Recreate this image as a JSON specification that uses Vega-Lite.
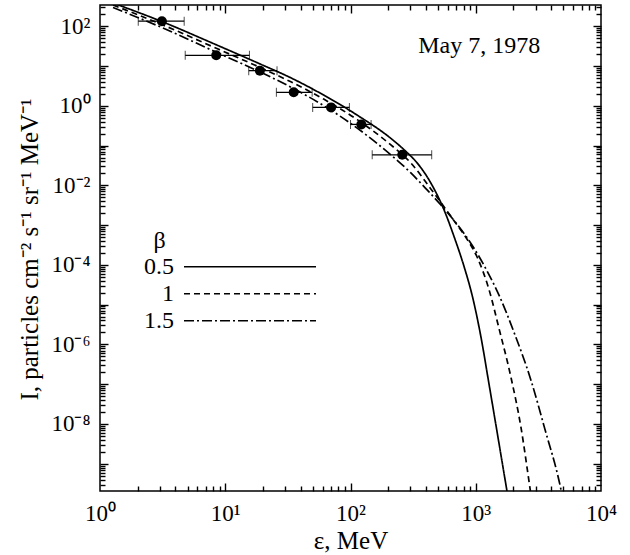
{
  "$schema": "https://vega.github.io/schema/vega-lite/v6.json",
  "width": 501,
  "height": 486,
  "autosize": {"type": "none"},
  "padding": {"left": 100, "top": 5, "right": 29, "bottom": 64},
  "background": "white",
  "config": {
    "view": {"stroke": "black", "strokeWidth": 1.5},
    "axis": {
      "labelFont": "Liberation Serif", "labelFontSize": 23, "labelColor": "black",
      "titleFont": "Liberation Serif", "titleFontSize": 25, "titleColor": "black", "titleFontWeight": "normal",
      "tickColor": "black", "tickWidth": 1.4, "domain": false, "grid": false,
      "labelFlush": false, "labelOverlap": false, "labelBound": false
    },
    "legend": {"labelFont": "Liberation Serif", "labelColor": "black"}
  },
  "datasets": {
    "curves": [
      {"beta": "0.5", "e": 1.27, "I": 384},
      {"beta": "0.5", "e": 3.116, "I": 131.3},
      {"beta": "0.5", "e": 8.58, "I": 33.6},
      {"beta": "0.5", "e": 19.05, "I": 11.19},
      {"beta": "0.5", "e": 33.1, "I": 5.115},
      {"beta": "0.5", "e": 39.8, "I": 3.83},
      {"beta": "0.5", "e": 61.1, "I": 1.855},
      {"beta": "0.5", "e": 113.1, "I": 0.582},
      {"beta": "0.5", "e": 208.9, "I": 0.1535},
      {"beta": "0.5", "e": 275.4, "I": 0.0723},
      {"beta": "0.5", "e": 341.7, "I": 0.0361},
      {"beta": "0.5", "e": 436.5, "I": 0.01164},
      {"beta": "0.5", "e": 557.7, "I": 0.00243},
      {"beta": "0.5", "e": 670.6, "I": 0.000518},
      {"beta": "0.5", "e": 806.3, "I": 0.000091},
      {"beta": "0.5", "e": 941, "I": 0.000016},
      {"beta": "0.5", "e": 1096, "I": 1.64e-6},
      {"beta": "0.5", "e": 1277.6, "I": 9.86e-8},
      {"beta": "0.5", "e": 1491.6, "I": 5.45e-9},
      {"beta": "0.5", "e": 1770, "I": 2.18e-10},
      {"beta": "0.5", "e": 1941, "I": 3.84e-11},
      {"beta": "1", "e": 1.27, "I": 341.7},
      {"beta": "1", "e": 3.116, "I": 110.4},
      {"beta": "1", "e": 8.58, "I": 27.47},
      {"beta": "1", "e": 19.05, "I": 9.13},
      {"beta": "1", "e": 33.1, "I": 4.056},
      {"beta": "1", "e": 61.1, "I": 1.471},
      {"beta": "1", "e": 113.1, "I": 0.4483},
      {"beta": "1", "e": 208.9, "I": 0.1053},
      {"beta": "1", "e": 302, "I": 0.0371},
      {"beta": "1", "e": 436.5, "I": 0.00822},
      {"beta": "1", "e": 557.7, "I": 0.002896},
      {"beta": "1", "e": 670.6, "I": 0.001287},
      {"beta": "1", "e": 858.3, "I": 0.0004277},
      {"beta": "1", "e": 1031.8, "I": 0.0001507},
      {"beta": "1", "e": 1277.6, "I": 0.0000236},
      {"beta": "1", "e": 1536.4, "I": 2.46e-6},
      {"beta": "1", "e": 1905, "I": 1.55e-7},
      {"beta": "1", "e": 2291, "I": 8.55e-9},
      {"beta": "1", "e": 2719, "I": 2.27e-10},
      {"beta": "1", "e": 2911, "I": 5.13e-11},
      {"beta": "1.5", "e": 1.27, "I": 295.6},
      {"beta": "1.5", "e": 3.116, "I": 92.75},
      {"beta": "1.5", "e": 8.58, "I": 21.78},
      {"beta": "1.5", "e": 19.05, "I": 7.035},
      {"beta": "1.5", "e": 35.19, "I": 2.703},
      {"beta": "1.5", "e": 61.1, "I": 1.009},
      {"beta": "1.5", "e": 113.1, "I": 0.274},
      {"beta": "1.5", "e": 208.9, "I": 0.059},
      {"beta": "1.5", "e": 302, "I": 0.02078},
      {"beta": "1.5", "e": 410.9, "I": 0.007537},
      {"beta": "1.5", "e": 524.8, "I": 0.003252},
      {"beta": "1.5", "e": 714, "I": 0.00102},
      {"beta": "1.5", "e": 969.3, "I": 0.0002615},
      {"beta": "1.5", "e": 1240.6, "I": 0.0000669},
      {"beta": "1.5", "e": 1536.4, "I": 0.00001715},
      {"beta": "1.5", "e": 2025, "I": 1.978e-6},
      {"beta": "1.5", "e": 2754, "I": 1.281e-7},
      {"beta": "1.5", "e": 3519, "I": 8.55e-9},
      {"beta": "1.5", "e": 4786, "I": 2.27e-10},
      {"beta": "1.5", "e": 5248, "I": 5.13e-11}
    ],
    "points": [
      {"e": 3.12, "I": 134, "lo": 2.02, "hi": 4.7},
      {"e": 8.47, "I": 18.6, "lo": 4.79, "hi": 15.6},
      {"e": 18.9, "I": 7.65, "lo": 15.4, "hi": 25.9},
      {"e": 35.2, "I": 2.18, "lo": 25.6, "hi": 49.4},
      {"e": 70, "I": 0.91, "lo": 49.9, "hi": 98},
      {"e": 122, "I": 0.34, "lo": 100, "hi": 146},
      {"e": 259, "I": 0.0586, "lo": 149, "hi": 445}
    ]
  },
  "resolve": {"axis": {"x": "independent", "y": "independent"}},
  "layer": [
    {
      "data": {"name": "curves"},
      "mark": {"type": "line", "clip": true, "interpolate": "monotone", "strokeWidth": 1.7, "color": "black"},
      "encoding": {
        "x": {
          "field": "e", "type": "quantitative",
          "scale": {"type": "log", "domain": [1, 10000], "nice": false},
          "axis": {
            "orient": "bottom", "title": "ε, MeV", "titleY": 57, "titleBaseline": "alphabetic",
            "values": [1, 10, 100, 1000, 10000], "ticks": false, "tickSize": 0,
            "labelPadding": 29, "labelBaseline": "alphabetic",
            "labelExpr": "datum.value < 5 ? '10⁰' : datum.value < 50 ? '10¹' : datum.value < 500 ? '10²' : datum.value < 5000 ? '10³' : '10⁴'"
          }
        },
        "y": {
          "field": "I", "type": "quantitative",
          "scale": {"type": "log", "domain": [2.06e-10, 342], "nice": false},
          "axis": {
            "orient": "left", "title": "I, particles cm⁻² s⁻¹ sr⁻¹ MeV⁻¹",
            "titleX": -63, "titleY": 244, "titleAlign": "center", "titleBaseline": "alphabetic", "titleAngle": -90,
            "values": [1e-8, 1e-6, 0.0001, 0.01, 1, 100], "ticks": false, "tickSize": 0,
            "labelPadding": 10, "labelBaseline": "middle",
            "labelExpr": "datum.value > 50 ? '10²' : datum.value > 0.5 ? '10⁰' : datum.value > 0.005 ? '10⁻²' : datum.value > 0.00005 ? '10⁻⁴' : datum.value > 0.0000005 ? '10⁻⁶' : '10⁻⁸'"
          }
        },
        "strokeDash": {
          "field": "beta", "type": "nominal",
          "scale": {"domain": ["0.5", "1", "1.5"], "range": [[1, 0], [6, 4], [10, 3, 2, 3]]},
          "legend": {
            "orient": "none", "legendX": 135, "legendY": 246.7, "title": null, "padding": 0,
            "symbolType": "M-4.714,0L4.714,0", "symbolSize": 784, "symbolStrokeWidth": 1.6, "symbolStrokeColor": "black",
            "symbolFillColor": "transparent",
            "labelFontSize": 24, "labelAlign": "right", "labelOffset": -91, "rowPadding": 0
          }
        }
      }
    },
    {
      "data": {"name": "points"},
      "mark": {"type": "errorbar", "ticks": {"size": 9, "color": "black", "strokeWidth": 1.3}, "rule": {"color": "black", "strokeWidth": 1.3}},
      "encoding": {
        "x": {
          "field": "lo", "type": "quantitative",
          "scale": {"type": "log", "domain": [1, 10000], "nice": false},
          "axis": {"orient": "bottom", "title": null, "labels": false, "tickSize": -8, "values": [10, 100, 1000]}
        },
        "x2": {"field": "hi"},
        "y": {
          "field": "I", "type": "quantitative",
          "scale": {"type": "log", "domain": [2.06e-10, 342], "nice": false},
          "axis": {"orient": "left", "title": null, "labels": false, "tickSize": -8,
            "values": [1e-9, 1e-8, 1e-7, 1e-6, 1e-5, 0.0001, 0.001, 0.01, 0.1, 1, 10, 100]}
        }
      }
    },
    {
      "data": {"name": "points"},
      "mark": {"type": "point", "filled": true, "shape": "circle", "size": 100, "color": "black", "opacity": 1},
      "encoding": {
        "x": {
          "field": "e", "type": "quantitative",
          "scale": {"type": "log", "domain": [1, 10000], "nice": false},
          "axis": {"orient": "bottom", "title": null, "labels": false, "tickSize": -5,
            "values": [2,3,4,5,6,7,8,9,20,30,40,50,60,70,80,90,200,300,400,500,600,700,800,900,2000,3000,4000,5000,6000,7000,8000,9000]}
        },
        "y": {
          "field": "I", "type": "quantitative",
          "scale": {"type": "log", "domain": [2.06e-10, 342], "nice": false},
          "axis": {"orient": "left", "title": null, "labels": false, "tickSize": -5,
            "values": [3e-10,4e-10,5e-10,6e-10,7e-10,8e-10,9e-10,2e-9,3e-9,4e-9,5e-9,6e-9,7e-9,8e-9,9e-9,2e-8,3e-8,4e-8,5e-8,6e-8,7e-8,8e-8,9e-8,2e-7,3e-7,4e-7,5e-7,6e-7,7e-7,8e-7,9e-7,2e-6,3e-6,4e-6,5e-6,6e-6,7e-6,8e-6,9e-6,2e-5,3e-5,4e-5,5e-5,6e-5,7e-5,8e-5,9e-5,2e-4,3e-4,4e-4,5e-4,6e-4,7e-4,8e-4,9e-4,2e-3,3e-3,4e-3,5e-3,6e-3,7e-3,8e-3,9e-3,0.02,0.03,0.04,0.05,0.06,0.07,0.08,0.09,0.2,0.3,0.4,0.5,0.6,0.7,0.8,0.9,2,3,4,5,6,7,8,9,20,30,40,50,60,70,80,90,200,300]}
        }
      }
    },
    {
      "data": {"values": [{"label": "May 7, 1978"}]},
      "mark": {"type": "text", "font": "Liberation Serif", "fontSize": 24, "align": "center", "baseline": "alphabetic", "color": "black"},
      "encoding": {
        "text": {"field": "label"},
        "x": {
          "datum": 1067, "type": "quantitative",
          "scale": {"type": "log", "domain": [1, 10000], "nice": false},
          "axis": {"orient": "top", "title": null, "labels": false, "tickSize": -8, "values": [10, 100, 1000]}
        },
        "y": {
          "datum": 21.4, "type": "quantitative",
          "scale": {"type": "log", "domain": [2.06e-10, 342], "nice": false},
          "axis": {"orient": "right", "title": null, "labels": false, "tickSize": -8,
            "values": [1e-9, 1e-8, 1e-7, 1e-6, 1e-5, 0.0001, 0.001, 0.01, 0.1, 1, 10, 100]}
        }
      }
    },
    {
      "data": {"values": [{"label": "β"}]},
      "mark": {"type": "text", "font": "Liberation Serif", "fontSize": 24, "align": "center", "baseline": "alphabetic", "color": "black"},
      "encoding": {
        "text": {"field": "label"},
        "x": {
          "datum": 2.99, "type": "quantitative",
          "scale": {"type": "log", "domain": [1, 10000], "nice": false},
          "axis": {"orient": "top", "title": null, "labels": false, "tickSize": -5,
            "values": [2,3,4,5,6,7,8,9,20,30,40,50,60,70,80,90,200,300,400,500,600,700,800,900,2000,3000,4000,5000,6000,7000,8000,9000]}
        },
        "y": {
          "datum": 0.000269, "type": "quantitative",
          "scale": {"type": "log", "domain": [2.06e-10, 342], "nice": false},
          "axis": {"orient": "right", "title": null, "labels": false, "tickSize": -5,
            "values": [3e-10,4e-10,5e-10,6e-10,7e-10,8e-10,9e-10,2e-9,3e-9,4e-9,5e-9,6e-9,7e-9,8e-9,9e-9,2e-8,3e-8,4e-8,5e-8,6e-8,7e-8,8e-8,9e-8,2e-7,3e-7,4e-7,5e-7,6e-7,7e-7,8e-7,9e-7,2e-6,3e-6,4e-6,5e-6,6e-6,7e-6,8e-6,9e-6,2e-5,3e-5,4e-5,5e-5,6e-5,7e-5,8e-5,9e-5,2e-4,3e-4,4e-4,5e-4,6e-4,7e-4,8e-4,9e-4,2e-3,3e-3,4e-3,5e-3,6e-3,7e-3,8e-3,9e-3,0.02,0.03,0.04,0.05,0.06,0.07,0.08,0.09,0.2,0.3,0.4,0.5,0.6,0.7,0.8,0.9,2,3,4,5,6,7,8,9,20,30,40,50,60,70,80,90,200,300]}
        }
      }
    }
  ]
}
